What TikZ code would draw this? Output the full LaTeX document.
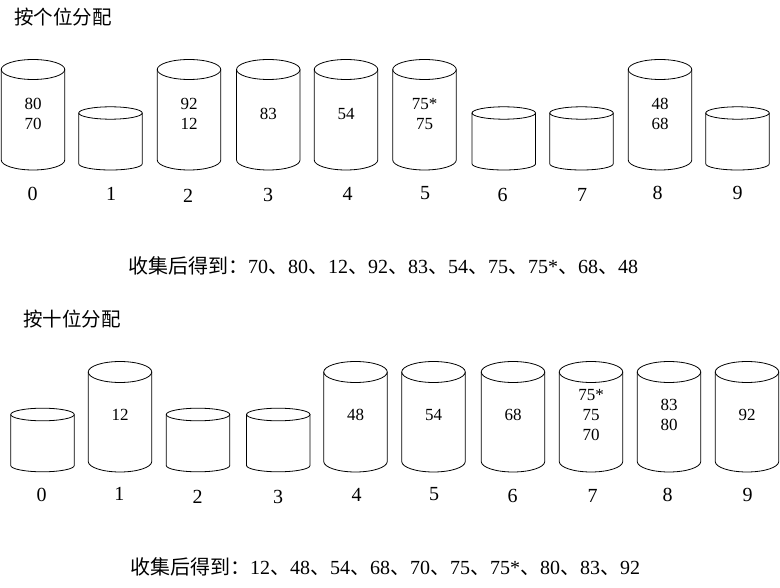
\documentclass[tikz,border=0pt]{standalone}
\usepackage{fontspec}
\setmainfont{Liberation Serif}
\newfontfamily\cjk{Noto Sans CJK SC}
\begin{document}
\begin{tikzpicture}[x=1pt,y=-1pt,
  cyl/.style={draw=black,line width=0.8pt},
  inner/.style={inner sep=0pt,align=center,font=\fontsize{17}{20}\selectfont},
  idx/.style={inner sep=0pt,font=\fontsize{20}{24}\selectfont},
  ttl/.style={inner sep=0pt,anchor=west,font=\fontsize{19.5}{24}\selectfont\cjk},
  coll/.style={inner sep=0pt,anchor=west,font=\fontsize{20}{24}\selectfont}]
\useasboundingbox (0,0) rectangle (780,588);
% cx, top ellipse centre, bottom ellipse centre, ry
\newcommand\mycyl[4]{%
  \draw[cyl] (#1,#2) ellipse [x radius=31.75, y radius=#4];
  \draw[cyl] (#1-31.75,#2) -- (#1-31.75,#3)
     arc[start angle=180, end angle=0, x radius=31.75, y radius=#4] -- (#1+31.75,#2);
}
\newcommand\tallA[1]{\mycyl{#1}{69.5}{160}{10}}
\newcommand\shortA[1]{\mycyl{#1}{113}{163.8}{6.2}}
\newcommand\tallB[1]{\mycyl{#1}{372}{461.5}{10.5}}
\newcommand\shortB[1]{\mycyl{#1}{414.5}{465.5}{6.3}}
\newcommand\cj[1]{{\cjk #1}}

% ---------- top section ----------
\node[ttl] (title1) at (14,17) {按个位分配};
\tallA{33}
\shortA{110.5}
\tallA{189}
\tallA{268.3}
\tallA{346}
\tallA{424.5}
\shortA{503.8}
\shortA{581.5}
\tallA{660}
\shortA{737.5}
\node[inner] (a0) at (33,114) {80\\70};
\node[inner] (a2) at (189,114) {92\\12};
\node[inner] (a3) at (268.3,114) {83};
\node[inner] (a4) at (346,114) {54};
\node[inner] (a5) at (424.5,114) {75*\\75};
\node[inner] (a8) at (660,114) {48\\68};
\node[idx] (la0) at (32.7,194) {0};
\node[idx] (la1) at (111,194) {1};
\node[idx] (la2) at (188,196) {2};
\node[idx] (la3) at (268,195) {3};
\node[idx] (la4) at (347.7,193.5) {4};
\node[idx] (la5) at (425,193.5) {5};
\node[idx] (la6) at (502.7,195) {6};
\node[idx] (la7) at (582,194.5) {7};
\node[idx] (la8) at (657.7,193) {8};
\node[idx] (la9) at (737.7,193) {9};
\node[coll] (col1) at (128,266) {\cj{收集后得到：}70\cj{、}80\cj{、}12\cj{、}92\cj{、}83\cj{、}54\cj{、}75\cj{、}75*\cj{、}68\cj{、}48};

% ---------- bottom section ----------
\node[ttl] (title2) at (23,319.5) {按十位分配};
\shortB{42.5}
\tallB{120}
\shortB{198}
\shortB{278.3}
\tallB{355.5}
\tallB{433.5}
\tallB{513}
\tallB{591}
\tallB{669}
\tallB{747}
\node[inner] (b1) at (120,415) {12};
\node[inner] (b4) at (355.5,415) {48};
\node[inner] (b5) at (433.5,415) {54};
\node[inner] (b6) at (513,415) {68};
\node[inner] (b7) at (591,415) {75*\\75\\70};
\node[inner] (b8) at (669,415) {83\\80};
\node[inner] (b9) at (747,415) {92};
\node[idx] (lb0) at (41.7,495) {0};
\node[idx] (lb1) at (119.3,494) {1};
\node[idx] (lb2) at (197.7,497) {2};
\node[idx] (lb3) at (278,496.5) {3};
\node[idx] (lb4) at (356.7,495) {4};
\node[idx] (lb5) at (434,494) {5};
\node[idx] (lb6) at (512.7,496) {6};
\node[idx] (lb7) at (592.7,496) {7};
\node[idx] (lb8) at (667.7,494.5) {8};
\node[idx] (lb9) at (747.7,494.5) {9};
\node[coll] (col2) at (130,567) {\cj{收集后得到：}12\cj{、}48\cj{、}54\cj{、}68\cj{、}70\cj{、}75\cj{、}75*\cj{、}80\cj{、}83\cj{、}92};
\end{tikzpicture}
\end{document}
